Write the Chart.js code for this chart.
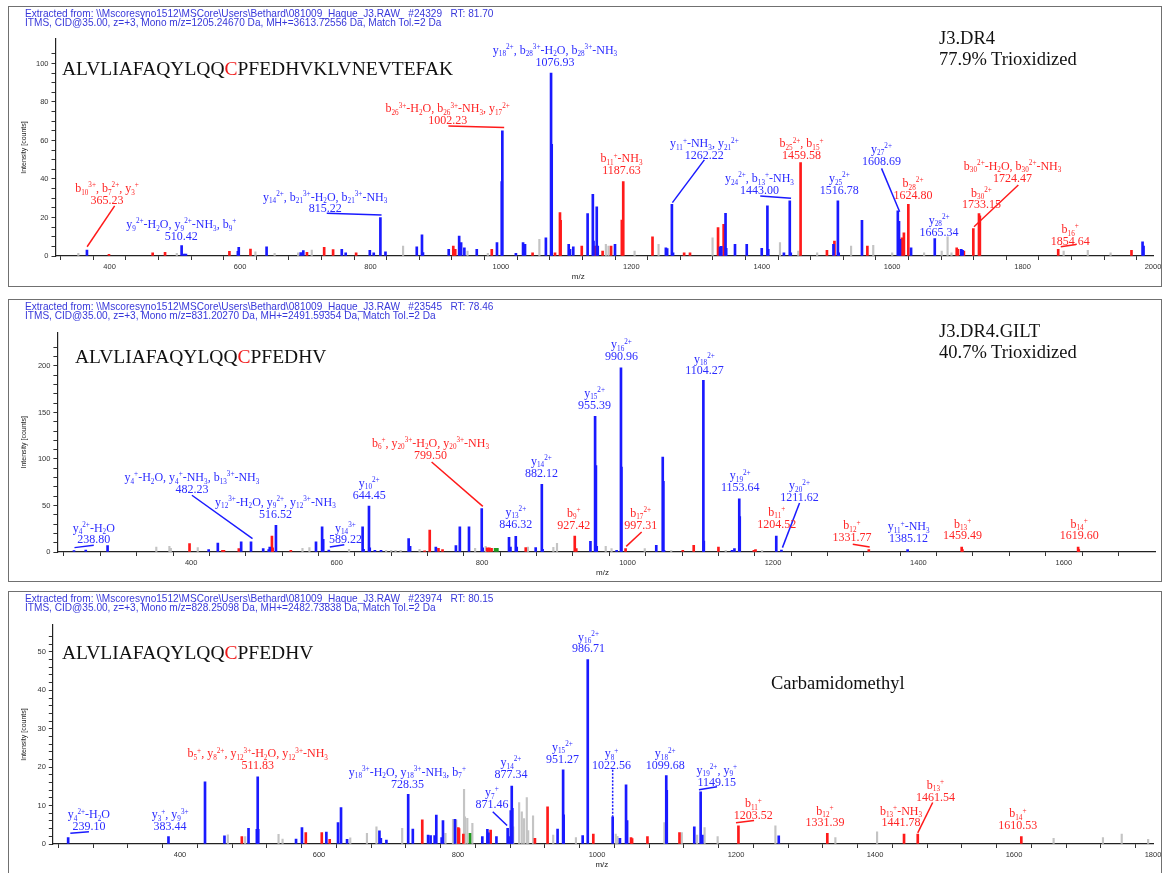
<!DOCTYPE html>
<html>
<head>
<meta charset="utf-8">
<title>J3.DR4 MS/MS spectra</title>
<script src="https://cdn.jsdelivr.net/npm/chart.js@4.4.1/dist/chart.umd.min.js"></script>
<style>
  html, body { margin: 0; padding: 0; background: #fff; }
  #page { position: relative; width: 1164px; height: 873px; overflow: hidden; background: #fff; }
  canvas { position: absolute; left: 0; }
  .box { position: absolute; left: 8px; width: 1154px; border: 1px solid #707070; box-sizing: border-box; pointer-events: none; }
  .hdr { position: absolute; left: 25px; font: 10.1px/9.3px "Liberation Sans", Arial, sans-serif; color: #3838da; white-space: pre; }
  .seq { position: absolute; font: 19.5px/22px "Liberation Serif", "Times New Roman", serif; color: #111; white-space: pre; }
  .seq span { color: #f01818; }
  .note { position: absolute; font: 18.5px/21px "Liberation Serif", "Times New Roman", serif; color: #111; white-space: pre; }
</style>
</head>
<body>
<div id="page">
  <canvas id="spec1" width="1164" height="290" style="top:0px"></canvas>
  <canvas id="spec2" width="1164" height="290" style="top:295px"></canvas>
  <canvas id="spec3" width="1164" height="285" style="top:588px"></canvas>

  <div class="box" style="top:6px;height:281px"></div>
  <div class="box" style="top:299px;height:283px"></div>
  <div class="box" style="top:591px;height:285px"></div>

  <div class="hdr" style="top:9px">Extracted from: \\Mscoresyno1512\MSCore\Users\Bethard\081009_Haque_J3.RAW   #24329   RT: 81.70
ITMS, CID@35.00, z=+3, Mono m/z=1205.24670 Da, MH+=3613.72556 Da, Match Tol.=2 Da</div>
  <div class="hdr" style="top:301.5px">Extracted from: \\Mscoresyno1512\MSCore\Users\Bethard\081009_Haque_J3.RAW   #23545   RT: 78.46
ITMS, CID@35.00, z=+3, Mono m/z=831.20270 Da, MH+=2491.59354 Da, Match Tol.=2 Da</div>
  <div class="hdr" style="top:594px">Extracted from: \\Mscoresyno1512\MSCore\Users\Bethard\081009_Haque_J3.RAW   #23974   RT: 80.15
ITMS, CID@35.00, z=+3, Mono m/z=828.25098 Da, MH+=2482.73838 Da, Match Tol.=2 Da</div>

  <div class="seq" style="left:62px;top:57.5px">ALVLIAFAQYLQQ<span>C</span>PFEDHVKLVNEVTEFAK</div>
  <div class="seq" style="left:75px;top:346px">ALVLIAFAQYLQQ<span>C</span>PFEDHV</div>
  <div class="seq" style="left:62px;top:642px">ALVLIAFAQYLQQ<span>C</span>PFEDHV</div>

  <div class="note" style="left:939px;top:27.5px">J3.DR4
77.9% Trioxidized</div>
  <div class="note" style="left:939px;top:320.5px">J3.DR4.GILT
40.7% Trioxidized</div>
  <div class="note" style="left:771px;top:672.5px">Carbamidomethyl</div>
</div>

<script>
// ---------------------------------------------------------------------------
// Spectrum 1: J3.DR4, ALVLIAFAQYLQQCPFEDHVKLVNEVTEFAK (3+), scan #24329
// peaks are [m/z, intensity]
// ---------------------------------------------------------------------------
const s1Blue = [[514,1],[517,1],[596.7,2.4],[598,4.5],[640.7,4.8],[693,1.8],[697,2.8],[756,3.5],[762,1.7],
  [799,3],[805,1.7],[823,2.2],[871,4.8],[879,11],[880.5,1.8],[920,3.5],[936,10.4],[939,7],[944,4.2],[963,3.5],
  [994,7],[1001.3,38.6],[1023,1.4],[1034,7],[1037,6],[1069,9.5],[1077.9,58],[1104,6],[1106,3.5],[1111,4.8],
  [1133,22],[1141,32],[1142,7.8],[1147,25.5],[1148.5,5.2],[1175,6],[1253,4.3],[1255,3.8],[1264,1.7],[1336,4.8],
  [1338,5],[1344.5,22.2],[1345.5,4],[1359,6],[1377,6],[1400,4],[1408.7,26],[1410,3.5],[1434,1.7],[1444.5,1.7],
  [1510,6],[1518,1.7],[1553.7,18.5],[1610.5,18],[1612,8.7],[1629,4.3],[1706,3.5],[1708,3],[1984,7.3],[1985.5,5.2]];
const s1Red = [[399,0.9],[466,1.7],[485,1.9],[583.7,2.4],[616,3.6],[702.6,1.9],[729,4.5],[742.7,3.3],[778,1.7],
  [927,5.2],[930,3.5],[986,3.5],[1048.6,1.7],[1083,1.7],[1090.6,22.5],[1091.6,18.5],[1124,5.2],[1144.7,5.2],
  [1156,2.6],[1169,5.2],[1185.5,18.7],[1232.5,10],[1281,1.7],[1290,1.7],[1333,14.7],[1341.6,16.5],[1500,3],
  [1511.5,7.8],[1562,5.2],[1615,9.5],[1618,12],[1699,4.3],[1701,3.5],[1710,2.6],[1734.5,20.8],[1967,3]];
const s1Gray = [[352,1.4],[503,1.4],[623.6,2.2],[653,1.4],[689,1.7],[710,3.1],[850,5.2],[948.8,2.6],[980,1.4],
  [1059,8.7],[1161,6],[1165,5.2],[1205,2.6],[1241.8,6],[1324.6,9.5],[1428,7],[1456,2.6],[1485,1.7],[1537,5.2],
  [1571,5.5],[1600,1.7],[1649,1.7],[1676,2.6],[1685,10],[1691,1.7],[1863,2.6],[1900,3],[1935,1.7]];
// assigned fragment ions: [m/z, intensity, peak colour, label colour, assignment]
const s1Ions = [
  [365.23, 3.1, 'B', 'R', 'b_{10}^{3+}, b_{7}^{2+}, y_{3}^{+}'],
  [510.42, 5.4, 'B', 'B', 'y_{9}^{2+}-H_{2}O, y_{9}^{2+}-NH_{3}, b_{9}^{+}'],
  [815.22, 19.9, 'B', 'B', 'y_{14}^{2+}, b_{21}^{3+}-H_{2}O, b_{21}^{3+}-NH_{3}'],
  [1002.23, 65, 'B', 'R', 'b_{26}^{3+}-H_{2}O, b_{26}^{3+}-NH_{3}, y_{17}^{2+}'],
  [1076.93, 95, 'B', 'B', 'y_{18}^{2+}, b_{28}^{3+}-H_{2}O, b_{28}^{3+}-NH_{3}'],
  [1187.63, 38.6, 'R', 'R', 'b_{11}^{+}-NH_{3}'],
  [1262.22, 26.8, 'B', 'B', 'y_{11}^{+}-NH_{3}, y_{21}^{2+}'],
  [1443.00, 28.6, 'B', 'B', 'y_{24}^{2+}, b_{13}^{+}-NH_{3}'],
  [1459.58, 48.5, 'R', 'R', 'b_{25}^{2+}, b_{15}^{+}'],
  [1516.78, 28.6, 'B', 'B', 'y_{25}^{2+}'],
  [1608.69, 23.4, 'B', 'B', 'y_{27}^{2+}'],
  [1624.80, 26.8, 'R', 'R', 'b_{28}^{2+}'],
  [1665.34, 9, 'B', 'B', 'y_{28}^{2+}'],
  [1724.47, 14.2, 'R', 'R', 'b_{30}^{2+}-H_{2}O, b_{30}^{2+}-NH_{3}'],
  [1733.15, 22, 'R', 'R', 'b_{30}^{2+}'],
  [1854.64, 3.5, 'R', 'R', 'b_{16}^{+}']
];
// label anchor (m/z, intensity of first text line) and optional leader line, one per ion above
const s1LabelAt = [[396,35.3],[510,16.6],[730.5,30.8],[918.4,76.7],[1083,107],[1185,50.7],[1312,58.5],[1396.5,40.4],
  [1461,58.5],[1519,40.4],[1583.7,55.7],[1632,37.8],[1672,18.7],[1784.7,46.8],[1737,32.9],[1873,14]];
const s1Leaders = [[[407.7,26],[365.5,4.8]], null, [[733,22.2],[817,21.3]], [[919.5,67.5],[1005,66.7]], null, null,
  [[1312,49.9],[1263,27.7]], [[1397.7,31.2],[1445,30]], null, null, [[1583.7,45.5],[1611.5,23]], null, null,
  [[1793.5,36.9],[1725.5,15.2]], null, [[1858.6,4.8],[1882,6]]];

// ---------------------------------------------------------------------------
// Spectrum 2: J3.DR4.GILT, ALVLIAFAQYLQQCPFEDHV (3+), scan #23545
// ---------------------------------------------------------------------------
const s2Blue = [[255,2],[285,7],[424,2.5],[436.6,9.7],[468.7,11],[499,3.6],[506.6,2.5],[508,5.4],[571.6,11],
  [580,27],[581.5,13.6],[635.7,27],[637,3],[645.5,4.5],[652.6,1.8],[661,1.8],[699,14.3],[701,6],[736.4,5.4],
  [764,7],[769.4,27],[782,27],[800.8,4.5],[837,15.8],[839,5.4],[847.6,5.4],[873.7,4.7],[883.2,2.9],[949,11.5],
  [956.5,93],[957.6,6],[985,1.8],[991.6,91.4],[1039.5,7.2],[1048.4,102],[1049.3,76],[1050.2,1.8],[1104.9,11.8],
  [1143.7,1.8],[1147,3.6],[1154.3,38]];
const s2Red = [[397.7,9],[443,1.8],[445,1.8],[465.5,3.6],[511,17],[512,4.5],[537,1.8],[721,1.2],[728,23.7],
  [740,3.9],[745.6,2.5],[807,4.5],[810,4.5],[813,3.9],[860,4.7],[929.5,3.6],[1076,1.8],[1091,7.2],[1125,5.4],
  [1173.7,1.8],[1176,2.5],[1460.5,2.5],[1620.5,2.5]];
const s2Green = [[817.9,3.9],[821,3.9]];
const s2Gray = [[352,5.4],[370,6],[372,3.9],[409,4.7],[553,3.9],[562.5,4.7],[617,2.9],[668,1.8],[675,1.8],
  [681,1.8],[688,1.8],[714,2.9],[790.4,3.9],[805,6],[863,5.4],[898,5],[903,9.3],[970,6],[978,3.6],[1023.7,3.6],
  [1060,1.5],[1135,1.8],[1185,1.5]];
const s2Ions = [
  [238.80, 1.5, 'B', 'B', 'y_{4}^{2+}-H_{2}O'],
  [482.23, 11, 'B', 'B', 'y_{4}^{+}-H_{2}O, y_{4}^{+}-NH_{3}, b_{13}^{3+}-NH_{3}'],
  [516.52, 28.7, 'B', 'B', 'y_{12}^{3+}-H_{2}O, y_{9}^{2+}, y_{12}^{3+}-NH_{3}'],
  [589.22, 2, 'B', 'B', 'y_{14}^{3+}'],
  [644.45, 49.5, 'B', 'B', 'y_{10}^{2+}'],
  [799.50, 46.6, 'B', 'R', 'b_{6}^{+}, y_{20}^{3+}-H_{2}O, y_{20}^{3+}-NH_{3}'],
  [846.32, 16.8, 'B', 'B', 'y_{13}^{2+}'],
  [882.12, 72.8, 'B', 'B', 'y_{14}^{2+}'],
  [927.42, 17, 'R', 'R', 'b_{9}^{+}'],
  [955.39, 146, 'B', 'B', 'y_{15}^{2+}'],
  [990.96, 198, 'B', 'B', 'y_{16}^{2+}'],
  [997.31, 3.6, 'R', 'R', 'b_{17}^{2+}'],
  [1104.27, 184.6, 'B', 'B', 'y_{18}^{2+}'],
  [1153.64, 57.3, 'B', 'B', 'y_{19}^{2+}'],
  [1204.52, 17, 'B', 'R', 'b_{11}^{+}'],
  [1211.62, 2, 'B', 'B', 'y_{20}^{2+}'],
  [1331.77, 2.5, 'R', 'R', 'b_{12}^{+}'],
  [1385.12, 2.5, 'B', 'B', 'y_{11}^{+}-NH_{3}'],
  [1459.49, 5.4, 'R', 'R', 'b_{13}^{+}'],
  [1619.60, 5.4, 'R', 'R', 'b_{14}^{+}']
];
const s2LabelAt = [[266,26.2],[401,80.6],[515.8,53.8],[612,26.2],[644.8,74.2],[729,117.2],[846.4,43],[881.6,97.9],
  [926,42],[954.7,171],[991.7,223.3],[1018,42],[1105.7,208],[1155,82.5],[1205.3,43],[1236.5,71.7],[1308.6,28.7],
  [1386.5,27.6],[1460.7,30.5],[1621,30.5]];
const s2Leaders = [[[239.5,4.7],[266,7.2]], [[401,61],[484.3,14.4]], null, [[590.6,5.4],[610.5,7.9]], null,
  [[730.6,96.8],[801,49]], null, null, null, null, null, [[1019.4,21.5],[998.2,6.1]], null, null, null,
  [[1236.5,52.7],[1213,4.7]], [[1309.7,8.3],[1333,5.4]], null, null, null];

// ---------------------------------------------------------------------------
// Spectrum 3: carbamidomethyl, ALVLIAFAQYLQQCPFEDHV (3+), scan #23974
// ---------------------------------------------------------------------------
const s3Blue = [[436,16.2],[464,2.1],[498.6,4.1],[510.6,3.8],[512.6,3.8],[567,1.3],[575.5,4.3],[610.6,3.1],
  [627.4,5.6],[631.7,9.5],[640.4,1.2],[687,3.4],[689,1.5],[697,1],[735,3.9],[757,2.3],[760.6,2.2],[766.4,2.2],
  [768.8,7.5],[776.5,1.7],[778.4,6.1],[795.7,6.4],[835,1.9],[842.3,3.8],[843.8,2.9],[855.3,1.9],[872.8,1.9],
  [876,8.7],[878.2,9.3],[943.3,3.9],[952,7.6],[979.4,2.2],[1033,1.5],[1041.8,15.4],[1043.3,6.1],[1100.4,14],
  [1140,4.5],[1150.2,1.9],[1151.5,2.3],[1261.5,2.1]];
const s3Red = [[489,1.9],[581,3],[604,3],[615.4,1.2],[748.6,6.3],[800.5,4.3],[801.5,4],[807.7,2.6],[847,3.6],
  [910.7,1.5],[928.9,9.7],[994.7,2.6],[1049,1.7],[1050.5,1.4],[1072.6,1.9],[1118.7,3]];
const s3Green = [[817.3,2.8]];
const s3Gray = [[468.8,2.4],[493.8,1.9],[541.8,2.5],[547.6,1.3],[645,1.6],[669,2.8],[682.7,4.5],[719.7,4.1],
  [782,2.8],[792.8,6.4],[797.5,6.2],[808.7,14.2],[810,7.1],[813.4,6.7],[820.7,5.4],[879.5,4.5],[888,10.8],
  [891.8,8.4],[895,6.6],[899,12.1],[901,3.5],[908,7.3],[937,2.3],[969.7,1.7],[1027,2.6],[1029.5,2],[1097,5.6],
  [1122,3],[1144,2.3],[1154.8,4.3],[1173.6,1.9],[1256.7,4.7],[1343,1.7],[1403,3.2],[1657,1.5],[1728,1.7],
  [1755,2.6],[1793,1.2]];
const s3Ions = [
  [239.10, 1.7, 'B', 'B', 'y_{4}^{2+}-H_{2}O'],
  [383.44, 1.9, 'B', 'B', 'y_{3}^{+}, y_{9}^{3+}'],
  [511.83, 17.5, 'B', 'R', 'b_{5}^{+}, y_{8}^{2+}, y_{12}^{3+}-H_{2}O, y_{12}^{3+}-NH_{3}'],
  [728.35, 12.9, 'B', 'B', 'y_{18}^{3+}-H_{2}O, y_{18}^{3+}-NH_{3}, b_{7}^{+}'],
  [871.46, 4.1, 'B', 'B', 'y_{7}^{+}'],
  [877.34, 15.1, 'B', 'B', 'y_{14}^{2+}'],
  [951.27, 19.3, 'B', 'B', 'y_{15}^{2+}'],
  [986.71, 48, 'B', 'B', 'y_{16}^{2+}'],
  [1022.56, 7.1, 'B', 'B', 'y_{8}^{+}'],
  [1099.68, 17.8, 'B', 'B', 'y_{18}^{2+}'],
  [1149.15, 13.6, 'B', 'B', 'y_{19}^{2+}, y_{9}^{+}'],
  [1203.52, 4.7, 'R', 'R', 'b_{11}^{+}'],
  [1331.39, 2.8, 'R', 'R', 'b_{12}^{+}'],
  [1441.78, 2.6, 'R', 'R', 'b_{13}^{+}-NH_{3}'],
  [1461.54, 2.6, 'R', 'R', 'b_{13}^{+}'],
  [1610.53, 1.9, 'R', 'R', 'b_{14}^{+}']
];
const s3LabelAt = [[269,7.7],[385.8,7.7],[511.8,23.6],[727.2,18.8],[848.8,13.5],[876.2,21.3],[950.2,25.3],
  [987.8,54],[1021,23.6],[1098.2,23.6],[1172.4,19.3],[1225,10.6],[1328,8.7],[1437.4,8.7],[1487,15.4],[1605.5,8]];
const s3Leaders = [[[242.2,2.8],[269,3.2]], null, null, null, [[850,8.4],[870.7,4.8]], null, null, null,
  [[1022.56,19.3],[1022.56,7.1],'dash'], null, [[1146.7,14.1],[1172.7,14.9]], [[1200,5.5],[1226,6.1]], null, null,
  [[1483,10.8],[1461.5,2.9]], null];

// ---------------------------------------------------------------------------
// drawing
// ---------------------------------------------------------------------------
const PEAK_COLOR = { B: '#1a1aff', R: '#ff1a1a', G: '#1f9a1f', N: '#c4c4c4' };
const TEXT_COLOR = { B: '#2b2bff', R: '#ff2424' };
const SERIF = '"Liberation Serif", "Times New Roman", "DejaVu Serif", serif';
const SANS = '"Liberation Sans", Arial, sans-serif';

// draws text with _{sub} and ^{sup} parts, centred on (cx, cy)
function drawRich(ctx, markup, cx, cy, size, color) {
  const parts = [];
  let buf = '', i = 0;
  while (i < markup.length) {
    const c = markup[i];
    if ((c === '_' || c === '^') && markup[i + 1] === '{') {
      if (buf) { parts.push({ t: buf, k: 0 }); buf = ''; }
      const end = markup.indexOf('}', i);
      parts.push({ t: markup.slice(i + 2, end), k: c === '_' ? 1 : 2 });
      i = end + 1;
    } else { buf += c; i++; }
  }
  if (buf) parts.push({ t: buf, k: 0 });
  const small = size * 0.6;
  let w = 0;
  for (const p of parts) {
    ctx.font = (p.k ? small : size) + 'px ' + SERIF;
    p.w = ctx.measureText(p.t).width;
    w += p.w;
  }
  let x = cx - w / 2;
  const base = cy + size * 0.34;
  ctx.fillStyle = color;
  ctx.textAlign = 'left';
  ctx.textBaseline = 'alphabetic';
  for (const p of parts) {
    ctx.font = (p.k ? small : size) + 'px ' + SERIF;
    const dy = p.k === 1 ? size * 0.2 : (p.k === 2 ? -size * 0.4 : 0);
    ctx.fillText(p.t, x, base + dy);
    x += p.w;
  }
}

function byMz(a, b) { return a.x - b.x; }

function buildSpectrum(id, peaks, ions, labelAt, leaders, geo) {
  const sets = { B: peaks.B.slice(), R: peaks.R.slice(), G: (peaks.G || []).slice(), N: peaks.N.slice() };
  ions.forEach(ion => sets[ion[2]].push([ion[0], ion[1]]));
  const toXY = arr => arr.map(p => ({ x: p[0], y: p[1] })).sort(byMz);

  const datasets = [
    { data: toXY(sets.N), backgroundColor: PEAK_COLOR.N, barThickness: 1.5, order: 3 },
    { data: toXY(sets.G), backgroundColor: PEAK_COLOR.G, barThickness: 2, order: 2 },
    { data: toXY(sets.R), backgroundColor: PEAK_COLOR.R, barThickness: 2, order: 1 },
    { data: toXY(sets.B), backgroundColor: PEAK_COLOR.B, barThickness: 2, order: 0 }
  ];

  const annotate = {
    id: 'ionAnnotations',
    afterDatasetsDraw(chart) {
      const { ctx, chartArea, scales: { x, y } } = chart;
      ctx.save();
      // leader lines
      leaders.forEach((ld, k) => {
        if (!ld) return;
        ctx.beginPath();
        ctx.strokeStyle = PEAK_COLOR[ions[k][3]];
        ctx.lineWidth = 1.5;
        ctx.setLineDash(ld[2] === 'dash' ? [2, 1.5] : []);
        ctx.moveTo(x.getPixelForValue(ld[0][0]), y.getPixelForValue(ld[0][1]));
        ctx.lineTo(x.getPixelForValue(ld[1][0]), y.getPixelForValue(ld[1][1]));
        ctx.stroke();
      });
      ctx.setLineDash([]);
      // two-line labels: assignment and m/z
      ions.forEach((ion, k) => {
        const px = x.getPixelForValue(labelAt[k][0]);
        const py = y.getPixelForValue(labelAt[k][1]);
        const col = TEXT_COLOR[ion[3]];
        drawRich(ctx, ion[4], px, py, geo.labelSize, col);
        drawRich(ctx, ion[0].toFixed(2), px, py + geo.lineGap, geo.labelSize, col);
      });
      // axis titles
      ctx.fillStyle = '#222';
      ctx.textAlign = 'center';
      ctx.textBaseline = 'middle';
      ctx.font = '8px ' + SANS;
      ctx.fillText('m/z', (chartArea.left + chartArea.right) / 2 + geo.mzShift, chartArea.bottom + 21);
      ctx.translate(23.7, (chartArea.top + chartArea.bottom) / 2);
      ctx.rotate(-Math.PI / 2);
      ctx.font = '7px ' + SANS;
      ctx.fillText('Intensity [counts]', 0, 0);
      ctx.restore();
    }
  };

  const keepEvery = step => scale => {
    scale.ticks = scale.ticks.filter(t => Math.abs(t.value / step - Math.round(t.value / step)) < 1e-6);
  };

  return new Chart(document.getElementById(id), {
    type: 'bar',
    data: { datasets },
    options: {
      responsive: false,
      animation: false,
      events: [],
      devicePixelRatio: 1,
      datasets: { bar: { grouped: false, borderWidth: 0 } },
      layout: { padding: { left: 0, right: geo.padRight, top: geo.padTop, bottom: 0 } },
      plugins: { legend: { display: false }, tooltip: { enabled: false }, title: { display: false } },
      scales: {
        x: {
          type: 'linear', min: geo.xMin, max: geo.xMax, offset: false,
          afterBuildTicks: keepEvery(50),
          afterFit: s => { s.height = geo.xAxisH; },
          ticks: {
            stepSize: 50, autoSkip: false, maxRotation: 0, padding: 2, color: '#333',
            font: { family: SANS, size: 7.5 },
            callback: v => (v % 200 === 0 ? String(v) : '')
          },
          grid: { drawOnChartArea: false, drawTicks: true, tickLength: 4, tickColor: '#333', tickWidth: 1 },
          border: { display: true, color: '#222', width: 1.2 }
        },
        y: {
          type: 'linear', min: 0, max: geo.yMax,
          afterBuildTicks: keepEvery(geo.yStep),
          afterFit: s => { s.width = geo.yAxisW; },
          ticks: {
            stepSize: geo.yStep, autoSkip: false, padding: 3, color: '#333',
            font: { family: SANS, size: 7.5 },
            callback: v => (Math.abs(v % geo.yLabel) < 1e-6 ? String(v) : '')
          },
          grid: { drawOnChartArea: false, drawTicks: true, tickLength: 4, tickColor: '#333', tickWidth: 1 },
          border: { display: true, color: '#222', width: 1.2 }
        }
      }
    },
    plugins: [annotate]
  });
}

buildSpectrum('spec1', { B: s1Blue, R: s1Red, N: s1Gray }, s1Ions, s1LabelAt, s1Leaders,
  { xMin: 317, xMax: 2000, yMax: 112.7, yStep: 5, yLabel: 20, padTop: 39, padRight: 11, yAxisW: 55.5, xAxisH: 34,
    labelSize: 12, lineGap: 11.7, mzShift: -26 });
buildSpectrum('spec2', { B: s2Blue, R: s2Red, G: s2Green, N: s2Gray }, s2Ions, s2LabelAt, s2Leaders,
  { xMin: 216, xMax: 1726, yMax: 236, yStep: 10, yLabel: 50, padTop: 37.5, padRight: 8.5, yAxisW: 57.4, xAxisH: 33,
    labelSize: 12, lineGap: 11.7, mzShift: -4 });
buildSpectrum('spec3', { B: s3Blue, R: s3Red, G: s3Green, N: s3Gray }, s3Ions, s3LabelAt, s3Leaders,
  { xMin: 217, xMax: 1800, yMax: 57, yStep: 2, yLabel: 10, padTop: 37, padRight: 11, yAxisW: 52.8, xAxisH: 29,
    labelSize: 12, lineGap: 11.7, mzShift: -1 });
</script>
</body>
</html>
